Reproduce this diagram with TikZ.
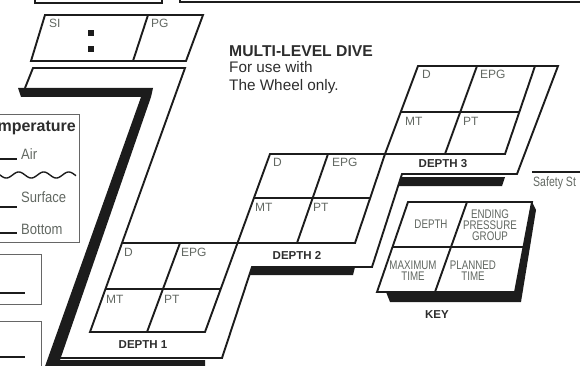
\documentclass[tikz,border=0pt]{standalone}
\usepackage{fontspec}
\setmainfont{Liberation Sans}
\newfontfamily\narrowfont{Liberation Sans}[FakeStretch=0.78]
\newfontfamily\legendfont{Liberation Sans}[FakeStretch=0.87]
\usetikzlibrary{positioning}
\definecolor{inkblack}{RGB}{28,28,28}
\definecolor{labelgray}{RGB}{98,104,98}
\definecolor{titlegray}{RGB}{45,45,45}

\begin{document}
\begin{tikzpicture}[x=1pt, y=-1pt,
    edge/.style={draw=inkblack, line width=1.9pt, line join=miter},
    thinedge/.style={draw=inkblack, line width=1.3pt},
    shade/.style={fill=inkblack},
    frame/.style={draw=black!60, line width=1pt},
    cell/.style={font=\fontsize{12}{12}\selectfont, text=labelgray, inner sep=0pt, anchor=north west},
    depthtag/.style={font=\fontsize{11.5}{12}\selectfont\bfseries, text=titlegray, inner sep=0pt},
    keytext/.style={font=\narrowfont\fontsize{12.5}{12}\selectfont, text=labelgray, align=center, inner sep=0pt},
    legendtext/.style={font=\legendfont\fontsize{15}{15}\selectfont, text=labelgray, inner sep=0pt, anchor=west}
]
\useasboundingbox (0,0) rectangle (580,366);
\clip (0,0) rectangle (580,366);

% boxes cut by the top edge
\draw[thinedge] (35,-3) -- (35,3) -- (162,3) -- (162,-3);
\draw[inkblack, line width=2.6pt] (180,-3) -- (180,2) -- (585,2);

% SI / PG box
\draw[edge] (45,15) -- (203,15) -- (186,61) -- (31,61) -- cycle;
\draw[edge] (148,15) -- (133,61);
\node[cell] (si) at (49,19) {SI};
\node[cell] (pg) at (151,19) {PG};
\fill[inkblack] (88,30) rectangle (94,36);
\fill[inkblack] (88,46) rectangle (94,52);

% title
\node[anchor=west, inner sep=0pt, text=titlegray,
      font=\fontsize{15.7}{16}\selectfont\bfseries] (title) at (229,51) {MULTI-LEVEL DIVE};
\node[below right=5pt and 0pt of title.south west, inner sep=0pt, text=titlegray, align=left,
      font=\fontsize{15.3}{18}\selectfont] (usage) {For use with\\The Wheel only.};

% ribbon shadows
\fill[shade] (18,88) -- (153,88) -- (151,97) -- (60,360) -- (205,360) -- (205,372)
  -- (43,372) -- (141,97) -- (21,97) -- cycle;
\fill[shade] (401,177) -- (505,177) -- (502,186) -- (398,186) -- cycle;
\fill[shade] (252,267) -- (355,267) -- (353,275) -- (249,275) -- cycle;

% ribbon and depth boxes
\draw[edge] (25,88) -- (33,68) -- (185,68) -- (90,332) -- (205,332) -- (270,154)
  -- (385,154) -- (418,66) -- (558,66) -- (517,174) -- (402,174) -- (372,267)
  -- (252,267) -- (222,358) -- (58,358);
\draw[edge] (122,243) -- (355,243) -- (385,154);
\draw[edge] (385,154) -- (505,154) -- (535,66);
% depth 1
\draw[edge] (106,289) -- (220,289);
\draw[edge] (180,243) -- (147,332);
% depth 2
\draw[edge] (254,198) -- (370,198);
\draw[edge] (328,154) -- (297,243);
% depth 3
\draw[edge] (401,112) -- (519,112);
\draw[edge] (477,66) -- (445,154);

\node[cell] (d1d) at (124,248) {D};
\node[cell] (d1epg) at (181,248) {EPG};
\node[cell] (d1mt) at (106,295) {MT};
\node[cell] (d1pt) at (164,295) {PT};
\node[depthtag] (depth1) at (143,345) {DEPTH 1};

\node[cell] (d2d) at (273,158) {D};
\node[cell] (d2epg) at (332,158) {EPG};
\node[cell] (d2mt) at (255,203) {MT};
\node[cell] (d2pt) at (313,203) {PT};
\node[depthtag] (depth2) at (297,255) {DEPTH 2};

\node[cell] (d3d) at (422,70) {D};
\node[cell] (d3epg) at (480,70) {EPG};
\node[cell] (d3mt) at (405,117) {MT};
\node[cell] (d3pt) at (463,117) {PT};
\node[depthtag] (depth3) at (443,164) {DEPTH 3};

% safety stop
\draw[thinedge] (532,172) -- (585,172);
\node[keytext, anchor=west, font=\narrowfont\fontsize{13.5}{13}\selectfont] (safety) at (533,183) {Safety St};

% key
\fill[shade] (386,292) -- (515,292) -- (532,202) -- (536,210) -- (521,302) -- (390,302) -- cycle;
\filldraw[edge, fill=white] (408,202) -- (532,202) -- (515,292) -- (377,292) -- cycle;
\draw[edge] (392,247) -- (524,247);
\draw[edge] (467,202) -- (435,292);
\node[keytext] (keydepth) at (431,224) {DEPTH};
\node[keytext] (keyepg) at (490,225) {ENDING\\[-1pt]PRESSURE\\[-1pt]GROUP};
\node[keytext] (keymt) at (413,271) {MAXIMUM\\[-1pt]TIME};
\node[keytext] (keypt) at (473,271) {PLANNED\\[-1pt]TIME};
\node[depthtag] (key) at (437,315) {KEY};

% temperature legend
\draw[frame] (-5,115) rectangle (79,242);
\node[anchor=east, inner sep=0pt, text=titlegray,
      font=\fontsize{16}{16}\selectfont\bfseries] (temp) at (76,128) {Temperature};
\draw[thinedge] (-5,159) -- (17,159);
\node[legendtext] (air) at (21,154) {Air};
\draw[inkblack, line width=1.4pt, domain=-3:76, samples=90] plot (\x, {175+3*sin(14.4*\x)});
\draw[thinedge] (-5,207) -- (17,207);
\node[legendtext] (surface) at (21,197) {Surface};
\draw[thinedge] (-5,233) -- (17,233);
\node[legendtext] (bottom) at (21,229) {Bottom};

% entry boxes
\draw[frame] (-5,254) rectangle (41,304);
\draw[thinedge] (-5,293) -- (25,293);
\draw[frame] (-5,321) rectangle (41,380);
\draw[thinedge] (-5,357) -- (25,357);
\end{tikzpicture}
\end{document}
